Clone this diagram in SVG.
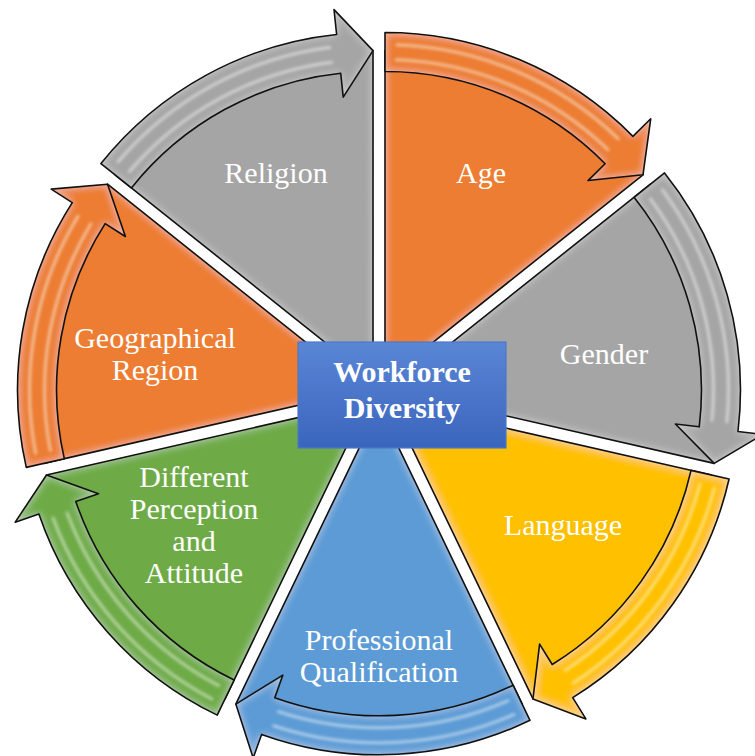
<svg xmlns="http://www.w3.org/2000/svg" width="755" height="756" viewBox="0 0 755 756">
<defs>
<style>
.lbl{font-family:"Liberation Serif","Times New Roman",serif;font-size:30px;fill:#ffffff;text-anchor:middle}
.ctr{font-family:"Liberation Serif","Times New Roman",serif;font-size:30px;font-weight:bold;fill:#ffffff;text-anchor:middle}
.ol{fill:none;stroke:#111111;stroke-width:1.6;stroke-linejoin:round}
.or{fill:#EC7D31}
.gy{fill:#A5A5A5}
.yl{fill:#FFC000}
.bl{fill:#5B9BD5}
.gr{fill:#6EAB46}
.st{fill:none;stroke:#ffffff;stroke-width:3;stroke-opacity:0.5;stroke-linecap:round}
</style>
<path id="wedge" d="M0,0 L330,0 A330,330 0 0 1 205.75,258.00 Z"/>
<path id="arrow" d="M348,0 A348,348 0 0 1 244.23,247.91 L261.77,265.72 L205.75,258.00 L200.01,203.03 L216.86,220.13 A309,309 0 0 0 309,0 Z"/>
<path id="stripes" d="M320.80,11.20 A321,321 0 0 1 230.91,222.99 M335.80,11.73 A336,336 0 0 1 241.70,233.41"/>
<filter id="ig" x="-10%" y="-10%" width="120%" height="120%">
<feGaussianBlur in="SourceAlpha" stdDeviation="4" result="b"/>
<feComposite in="SourceAlpha" in2="b" operator="out" result="e"/>
<feFlood flood-color="#ffffff" flood-opacity="0.45"/>
<feComposite in2="e" operator="in" result="g"/>
<feMerge><feMergeNode in="SourceGraphic"/><feMergeNode in="g"/></feMerge>
</filter>
<filter id="sb" x="-10%" y="-10%" width="120%" height="120%">
<feGaussianBlur stdDeviation="1.5"/>
</filter>
<linearGradient id="boxg" x1="0" y1="0" x2="0" y2="1">
<stop offset="0" stop-color="#5A86D6"/>
<stop offset="1" stop-color="#3A65BD"/>
</linearGradient>
</defs>
<rect width="755" height="756" fill="#ffffff"/>

<g id="age">
<g transform="translate(384.99,380.57) rotate(-90)"><use href="#wedge" class="or" filter="url(#ig)"/><use href="#wedge" class="ol"/></g>
<text class="lbl" x="481" y="183">Age</text>
</g>
<g id="gender">
<g transform="translate(392.45,389.93) rotate(-38.571)"><use href="#wedge" class="gy" filter="url(#ig)"/><use href="#wedge" class="ol"/></g>
<text class="lbl" x="604" y="364">Gender</text>
</g>
<g id="language">
<g transform="translate(389.79,401.60) rotate(12.857)"><use href="#wedge" class="yl" filter="url(#ig)"/><use href="#wedge" class="ol"/></g>
<text class="lbl" x="563" y="535">Language</text>
</g>
<g id="professional">
<g transform="translate(379,406.8) rotate(64.286)"><use href="#wedge" class="bl" filter="url(#ig)"/><use href="#wedge" class="ol"/></g>
<text class="lbl" x="379" y="650">Professional</text>
<text class="lbl" x="379" y="682">Qualification</text>
</g>
<g id="perception">
<g transform="translate(368.21,401.60) rotate(115.714)"><use href="#wedge" class="gr" filter="url(#ig)"/><use href="#wedge" class="ol"/></g>
<text class="lbl" x="194" y="487">Different</text>
<text class="lbl" x="194" y="519">Perception</text>
<text class="lbl" x="194" y="551">and</text>
<text class="lbl" x="194" y="583">Attitude</text>
</g>
<g id="region">
<g transform="translate(365.55,389.93) rotate(167.143)"><use href="#wedge" class="or" filter="url(#ig)"/><use href="#wedge" class="ol"/></g>
<text class="lbl" x="155" y="348">Geographical</text>
<text class="lbl" x="155" y="380">Region</text>
</g>
<g id="religion">
<g transform="translate(373.01,380.57) rotate(218.571)"><use href="#wedge" class="gy" filter="url(#ig)"/><use href="#wedge" class="ol"/></g>
<text class="lbl" x="276" y="183">Religion</text>
</g>

<g id="connectors">
<g transform="translate(384.99,380.57) rotate(-90)"><use href="#arrow" class="or" filter="url(#ig)"/><use href="#stripes" class="st" filter="url(#sb)"/><use href="#arrow" class="ol"/></g>
<g transform="translate(392.45,389.93) rotate(-38.571)"><use href="#arrow" class="gy" filter="url(#ig)"/><use href="#stripes" class="st" filter="url(#sb)"/><use href="#arrow" class="ol"/></g>
<g transform="translate(389.79,401.60) rotate(12.857)"><use href="#arrow" class="yl" filter="url(#ig)"/><use href="#stripes" class="st" filter="url(#sb)"/><use href="#arrow" class="ol"/></g>
<g transform="translate(379,406.8) rotate(64.286)"><use href="#arrow" class="bl" filter="url(#ig)"/><use href="#stripes" class="st" filter="url(#sb)"/><use href="#arrow" class="ol"/></g>
<g transform="translate(368.21,401.60) rotate(115.714)"><use href="#arrow" class="gr" filter="url(#ig)"/><use href="#stripes" class="st" filter="url(#sb)"/><use href="#arrow" class="ol"/></g>
<g transform="translate(365.55,389.93) rotate(167.143)"><use href="#arrow" class="or" filter="url(#ig)"/><use href="#stripes" class="st" filter="url(#sb)"/><use href="#arrow" class="ol"/></g>
<g transform="translate(373.01,380.57) rotate(218.571)"><use href="#arrow" class="gy" filter="url(#ig)"/><use href="#stripes" class="st" filter="url(#sb)"/><use href="#arrow" class="ol"/></g>
</g>

<g id="center">
<rect x="298" y="342" width="208" height="106" fill="url(#boxg)" stroke="#4D78C8" stroke-width="1.2"/>
<text class="ctr" x="402" y="382">Workforce</text>
<text class="ctr" x="402" y="418">Diversity</text>
</g>
</svg>
